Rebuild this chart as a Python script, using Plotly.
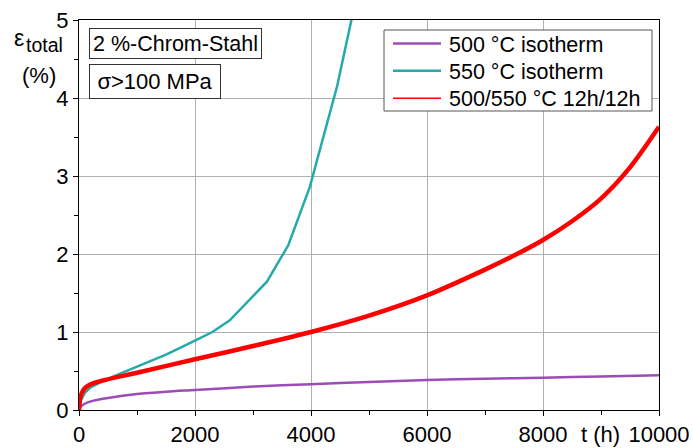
import plotly.graph_objects as go

# 500 °C isotherm
t_500 = [0, 25, 100, 250, 500, 1000, 1500, 2000, 3000, 4000, 5000, 6000, 7000, 8000, 9000, 10000]
e_500 = [0, 0.04, 0.08, 0.12, 0.155, 0.205, 0.235, 0.256, 0.30, 0.33, 0.36, 0.385, 0.40, 0.415, 0.43, 0.445]

# 550 °C isotherm
t_550 = [0, 30, 100, 200, 450, 1000, 1500, 2000, 2300, 2600, 2860, 3240, 3610, 3980, 4450, 4700, 4900]
e_550 = [0, 0.12, 0.22, 0.29, 0.385, 0.555, 0.71, 0.89, 1.0, 1.15, 1.35, 1.645, 2.115, 2.86, 4.15, 5.0, 5.7]

# 500/550 °C 12h/12h cycling
t_cyc = [0, 20, 50, 100, 200, 450, 1000, 2000, 3000, 4000, 5000, 6000, 7000, 7500, 8000, 8500, 9000, 9500, 10000]
e_cyc = [0, 0.15, 0.22, 0.28, 0.33, 0.385, 0.478, 0.65, 0.82, 1.0, 1.21, 1.47, 1.80, 1.98, 2.18, 2.42, 2.71, 3.11, 3.63]

names = ["500 °C isotherm", "550 °C isotherm", "500/550 °C 12h/12h"]
colors = ["#9b4db5", "#26a9a9", "#ff0000"]
legend_widths = [2.5, 2.5, 1.5]

FONT = "Liberation Sans, Arial, sans-serif"

# plot-area pixel geometry helpers (for legend/annotation placement only)
PL, PR, PT, PB = 79, 659, 20, 410
def px(x):
    return (x - PL) / (PR - PL)
def py(y):
    return (PB - y) / (PB - PT)

fig = go.Figure()
fig.add_trace(go.Scatter(x=t_500, y=e_500, mode="lines", name=names[0], showlegend=False,
                         line=dict(color=colors[0], width=2.5, shape="spline", smoothing=0.8)))
fig.add_trace(go.Scatter(x=t_550, y=e_550, mode="lines", name=names[1], showlegend=False,
                         line=dict(color=colors[1], width=2.5)))
fig.add_trace(go.Scatter(x=t_cyc, y=e_cyc, mode="lines", name=names[2], showlegend=False,
                         line=dict(color=colors[2], width=4.5, shape="spline", smoothing=0.8)))

axis_common = dict(
    showline=True, linecolor="black", linewidth=1, mirror=True,
    ticks="outside", ticklen=5, tickcolor="black",
    showgrid=True, gridcolor="#b0b0b0", gridwidth=1,
    zeroline=False, automargin=False,
    tickfont=dict(family=FONT, size=22, color="black"),
)

fig.update_xaxes(range=[0, 10000], dtick=2000, tick0=0, tickformat="d",
                 minor=dict(dtick=1000, ticks="outside", ticklen=4, tickcolor="black", showgrid=False),
                 **axis_common)
fig.update_yaxes(range=[0, 5], dtick=1, tick0=0, tickformat="d",
                 minor=dict(dtick=0.5, ticks="outside", ticklen=4, tickcolor="black", showgrid=False),
                 **axis_common)

fig.update_layout(
    width=693, height=448,
    margin=dict(l=PL, r=693 - PR, t=PT, b=448 - PB),
    paper_bgcolor="white", plot_bgcolor="white",
    font=dict(family=FONT, color="black"),
    showlegend=False,
)

# manual legend
fig.add_shape(type="rect", xref="paper", yref="paper",
              x0=px(384), x1=px(652), y0=py(111), y1=py(30),
              line=dict(color="#555555", width=1), fillcolor="white", layer="above")
leg_y = [43.5, 70.8, 98.3]
for name, col, w, yy in zip(names, colors, legend_widths, leg_y):
    fig.add_shape(type="line", xref="paper", yref="paper",
                  x0=px(393), x1=px(441), y0=py(yy), y1=py(yy),
                  line=dict(color=col, width=w), layer="above")
    fig.add_annotation(xref="paper", yref="paper", x=px(447), y=py(yy + 1),
                       xanchor="left", yanchor="middle", showarrow=False,
                       text=name, font=dict(family=FONT, size=21.5, color="black"))

# text boxes
fig.add_annotation(xref="paper", yref="paper", x=px(89), y=py(28),
                   xanchor="left", yanchor="top", showarrow=False,
                   text="2 %-Chrom-Stahl", font=dict(family=FONT, size=21.5, color="black"),
                   width=167, height=25, align="center",
                   bordercolor="#333333", borderwidth=1, borderpad=2, bgcolor="white")
fig.add_annotation(xref="paper", yref="paper", x=px(89), y=py(64),
                   xanchor="left", yanchor="top", showarrow=False,
                   text="σ>100 MPa", font=dict(family=FONT, size=22, color="black"),
                   width=126, height=29, align="center",
                   bordercolor="#333333", borderwidth=1, borderpad=2, bgcolor="white")

# axis titles
fig.add_annotation(xref="paper", yref="paper", x=px(12), y=py(38),
                   xanchor="left", yanchor="middle", showarrow=False,
                   text="ε", font=dict(family=FONT, size=23, color="black"))
fig.add_annotation(xref="paper", yref="paper", x=px(24), y=py(45),
                   xanchor="left", yanchor="middle", showarrow=False,
                   text="total", font=dict(family=FONT, size=19.5, color="black"))
fig.add_annotation(xref="paper", yref="paper", x=px(20), y=py(75),
                   xanchor="left", yanchor="middle", showarrow=False,
                   text="(%)", font=dict(family=FONT, size=22, color="black"))
fig.add_annotation(xref="paper", yref="paper", x=px(579), y=py(434),
                   xanchor="left", yanchor="middle", showarrow=False,
                   text="t (h)", font=dict(family=FONT, size=22, color="black"))

fig.write_html("out.html")
